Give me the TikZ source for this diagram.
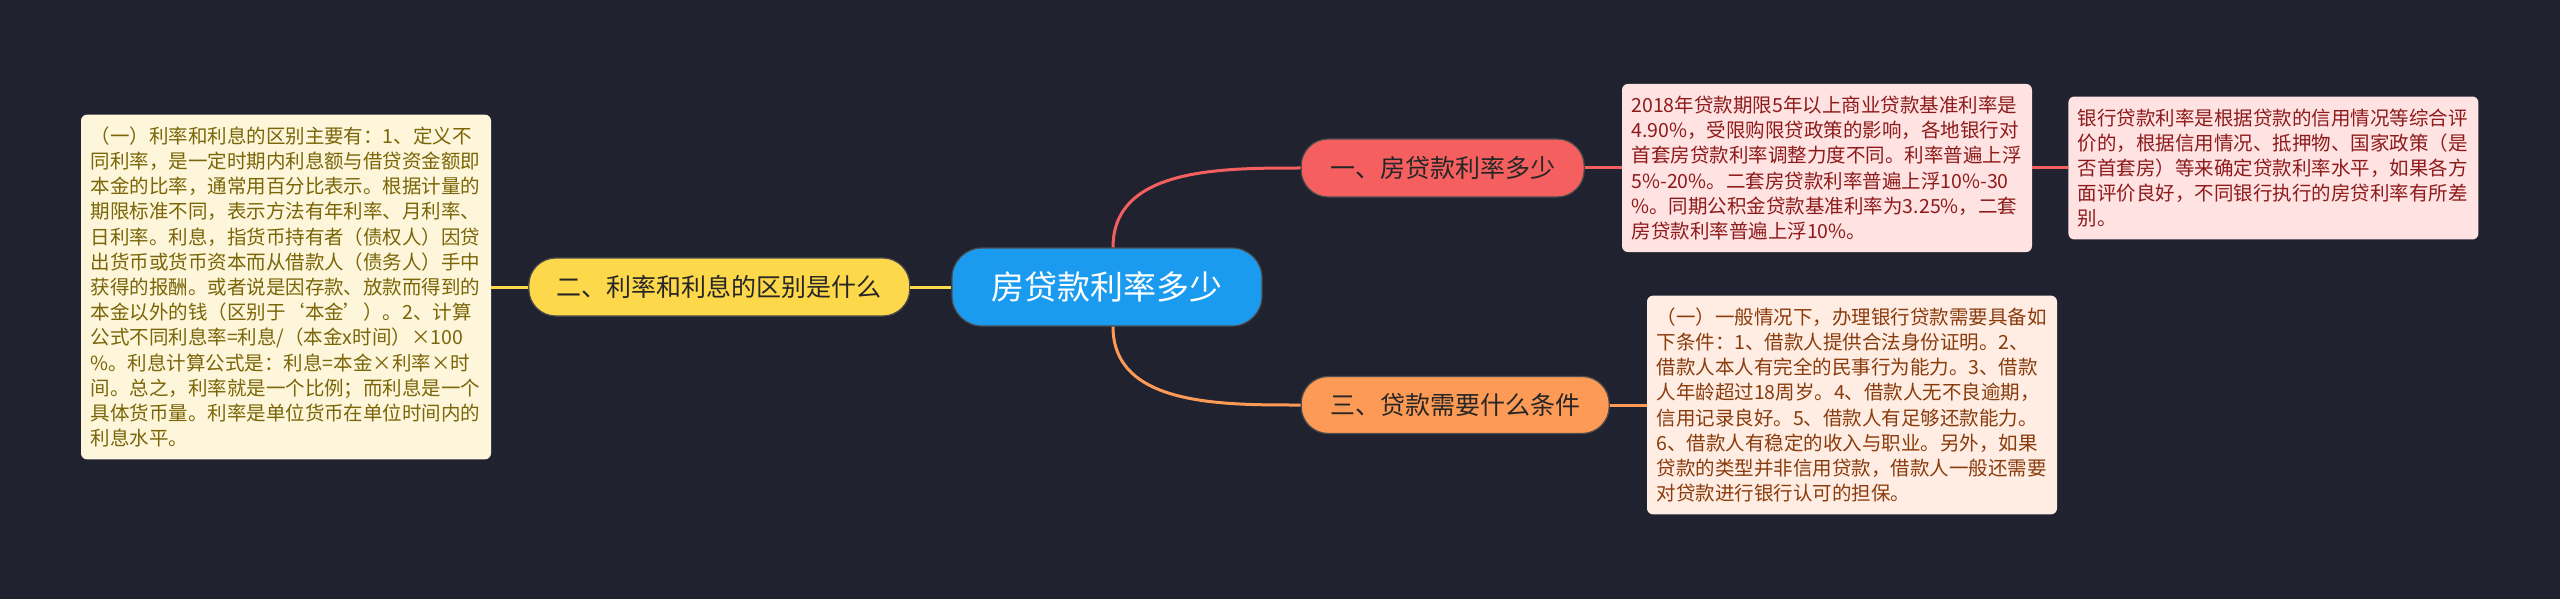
\documentclass[tikz,border=0pt]{standalone}
\usepackage{fontspec}
\setmainfont{Noto Sans CJK SC}
\usepackage{xcolor}
\usetikzlibrary{positioning, calc}

\definecolor{fond}{HTML}{20232F}
\definecolor{bleuracine}{HTML}{1A9BF0}
\definecolor{rougebr}{HTML}{F55F5F}
\definecolor{jaunebr}{HTML}{FDD84B}
\definecolor{orangebr}{HTML}{FD9A55}
\definecolor{fondjaune}{HTML}{FEF6DA}
\definecolor{fondrose}{HTML}{FFE2E2}
\definecolor{fondpeche}{HTML}{FFEDE3}
\definecolor{texteolive}{HTML}{7A6508}
\definecolor{texterouge}{HTML}{8E1B1B}
\definecolor{textebrun}{HTML}{8A3B0C}

\begin{document}
\begin{tikzpicture}[
    x=1pt, y=1pt,
    every node/.style={font=\fontsize{25pt}{30pt}\selectfont},
    racinebox/.style={
        rectangle,
        rounded corners=30pt,
        fill=bleuracine,
        draw=black!70,
        line width=1.2pt,
        text=white,
        minimum width=310pt,
        minimum height=78pt,
        font=\fontsize{33pt}{40pt}\selectfont
    },
    branche/.style={
        rectangle,
        rounded corners=27pt,
        draw=black!70,
        line width=1.2pt,
        text=black!85,
        minimum height=58pt
    },
    note/.style={
        rectangle,
        rounded corners=6pt,
        text width=391pt,
        align=left,
        inner xsep=9.5pt,
        inner ysep=12pt,
        font=\fontsize{19.5pt}{25.2pt}\selectfont
    },
    lien/.style={
        line width=3pt
    }
]

% Fond
\fill[fond] (0,0) rectangle (2560,-599);
\useasboundingbox (0,0) rectangle (2560,-599);

% Blocs
\node[racinebox] (racine) at (1107,-287) {房贷款利率多少};

\node[branche, fill=rougebr, minimum width=283pt, right=38pt of racine, yshift=119pt] (taux) {一、房贷款利率多少};

\node[branche, fill=jaunebr, minimum width=381pt, left=41pt of racine] (diff) {二、利率和利息的区别是什么};

\node[branche, fill=orangebr, minimum width=308pt, minimum height=57pt, right=38pt of racine, yshift=-118pt] (cond) {三、贷款需要什么条件};


% Notes
\node[note, fill=fondjaune, text=texteolive, left=37pt of diff] (notediff) {（一）利率和利息的区别主要有：1、定义不\\
同利率，是一定时期内利息额与借贷资金额即\\
本金的比率，通常用百分比表示。根据计量的\\
期限标准不同，表示方法有年利率、月利率、\\
日利率。利息，指货币持有者（债权人）因贷\\
出货币或货币资本而从借款人（债务人）手中\\
获得的报酬。或者说是因存款、放款而得到的\\
\mbox{本金以外的钱（区别于‘本金’）。2、计算}\\
公式不同利息率=利息/（本金x时间）×100\\
\%。利息计算公式是：利息=本金×利率×时\\
间。总之，利率就是一个比例；而利息是一个\\
具体货币量。利率是单位货币在单位时间内的\\
利息水平。};

\node[note, fill=fondrose, text=texterouge, right=37pt of taux] (notetaux) {2018年贷款期限5年以上商业贷款基准利率是\\
4.90\%，受限购限贷政策的影响，各地银行对\\
首套房贷款利率调整力度不同。利率普遍上浮\\
5\%-20\%。二套房贷款利率普遍上浮10\%-30\\
\%。同期公积金贷款基准利率为3.25\%，二套\\
房贷款利率普遍上浮10\%。};

\node[note, fill=fondrose, text=texterouge, right=36pt of notetaux] (notebanque) {银行贷款利率是根据贷款的信用情况等综合评\\
价的，根据信用情况、抵押物、国家政策（是\\
否首套房）等来确定贷款利率水平，如果各方\\
面评价良好，不同银行执行的房贷利率有所差\\
别。};

\node[note, fill=fondpeche, text=textebrun, right=37pt of cond] (notecond) {（一）一般情况下，办理银行贷款需要具备如\\
下条件：1、借款人提供合法身份证明。2、\\
借款人本人有完全的民事行为能力。3、借款\\
人年龄超过18周岁。4、借款人无不良逾期，\\
信用记录良好。5、借款人有足够还款能力。\\
6、借款人有稳定的收入与职业。另外，如果\\
贷款的类型并非信用贷款，借款人一般还需要\\
对贷款进行银行认可的担保。};


% Racine -> Branche 1
\draw[lien, rougebr]
    ([xshift=6pt]racine.north)
    to[out=90, in=180]
    (taux.west);
\draw[lien, rougebr] (taux.east) -- (notetaux.west);
\draw[lien, rougebr] (notetaux.east) -- (notebanque.west);


% Racine -> Branche 2
\draw[lien, jaunebr] (racine.west) -- (diff.east);
\draw[lien, jaunebr] (diff.west) -- (notediff.east);


% Racine -> Branche 3
\draw[lien, orangebr]
    ([xshift=6pt]racine.south)
    to[out=-90, in=180]
    (cond.west);
\draw[lien, orangebr] (cond.east) -- (notecond.west);

\end{tikzpicture}
\end{document}
